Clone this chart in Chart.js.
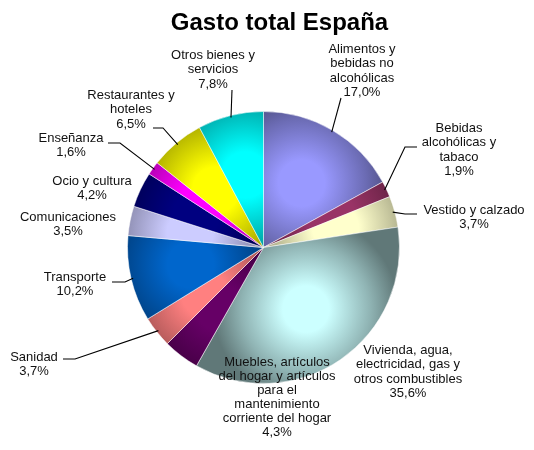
<!DOCTYPE html>
<html>
<head>
<meta charset="utf-8">
<script src="https://cdn.jsdelivr.net/npm/chart.js@4.4.1/dist/chart.umd.min.js"></script>
<style>
	html, body { margin: 0; padding: 0; background: #fff; }
	canvas { display: block; }
</style>
</head>
<body>
<canvas id="gasto" width="534" height="450"></canvas>
<script>
const chartTitle = 'Gasto total España';
const categories = [
	'Alimentos y\nbebidas no\nalcohólicas',
	'Bebidas\nalcohólicas y\ntabaco',
	'Vestido y calzado',
	'Vivienda, agua,\nelectricidad, gas y\notros combustibles',
	'Muebles, artículos\ndel hogar y artículos\npara el\nmantenimiento\ncorriente del hogar',
	'Sanidad',
	'Transporte',
	'Comunicaciones',
	'Ocio y cultura',
	'Enseñanza',
	'Restaurantes y\nhoteles',
	'Otros bienes y\nservicios'
];
const values = [17.0, 1.9, 3.7, 35.6, 4.3, 3.7, 10.2, 3.5, 4.2, 1.6, 6.5, 7.8];
const colors = ['#9999FF', '#993366', '#FFFFCC', '#CCFFFF', '#660066', '#FF8080',
	'#0066CC', '#CCCCFF', '#000080', '#FF00FF', '#FFFF00', '#00FFFF'];

// where each label block sits: centre x, y of the first line
const labelPos = [
	[362, 49], [459, 128], [474, 210], [408, 350], [277, 362], [34, 357],
	[75, 277], [68, 217], [92, 181], [71, 138], [131, 95], [213, 55]
];
// leader line points after the rim point (null = no line)
const leaders = [
	[[341, 98]],
	[[405, 147], [417, 147]],
	[[405, 214], [417, 214]],
	null,
	null,
	[[75, 359], [63, 359]],
	[[125, 282], [112, 282]],
	null,
	null,
	[[120, 143], [108, 143]],
	[[163, 128], [153, 128]],
	[[232, 90]]
];

function shade(hex, f) {
	let n = parseInt(hex.slice(1), 16);
	let r = Math.round(((n >> 16) & 255) * f);
	let g = Math.round(((n >> 8) & 255) * f);
	let b = Math.round((n & 255) * f);
	return 'rgb(' + r + ',' + g + ',' + b + ')';
}

function pieGeometry(chart) {
	let a = chart.chartArea;
	let cx = (a.left + a.right) / 2;
	let cy = (a.top + a.bottom) / 2;
	let r = (Math.min(a.right - a.left, a.bottom - a.top) - 1) / 2;
	return {cx: cx, cy: cy, r: r};
}

function sliceMid(i) {
	let total = values.reduce((s, v) => s + v, 0);
	let before = 0;
	for (let k = 0; k < i; k++) before += values[k];
	let frac = (before + values[i] / 2) / total;
	return frac * Math.PI * 2 - Math.PI / 2;
}

// excel-like shading: bright inside the slice, darker towards its edges
function sliceFill(context) {
	let chart = context.chart;
	if (!chart.chartArea) return colors[context.dataIndex];
	let i = context.dataIndex;
	let geo = pieGeometry(chart);
	let mid = sliceMid(i);
	let gx = geo.cx + Math.cos(mid) * geo.r * 0.55;
	let gy = geo.cy + Math.sin(mid) * geo.r * 0.55;
	let g = chart.ctx.createRadialGradient(gx, gy, 0, gx, gy, geo.r * 0.68);
	g.addColorStop(0, colors[i]);
	g.addColorStop(0.25, colors[i]);
	g.addColorStop(0.7, shade(colors[i], 0.7));
	g.addColorStop(1, shade(colors[i], 0.47));
	return g;
}

const labelPlugin = {
	id: 'pieLabels',
	afterDatasetsDraw(chart) {
		let ctx = chart.ctx;
		let geo = pieGeometry(chart);
		ctx.save();
		// leader lines
		ctx.strokeStyle = '#000';
		ctx.lineWidth = 1.1;
		leaders.forEach((pts, i) => {
			if (!pts) return;
			let mid = sliceMid(i);
			ctx.beginPath();
			ctx.moveTo(geo.cx + Math.cos(mid) * (geo.r - 2), geo.cy + Math.sin(mid) * (geo.r - 2));
			pts.forEach(p => ctx.lineTo(p[0], p[1]));
			ctx.stroke();
		});
		// label texts
		ctx.fillStyle = '#111';
		ctx.font = '13px "Liberation Sans", Arial, sans-serif';
		ctx.textAlign = 'center';
		ctx.textBaseline = 'middle';
		categories.forEach((name, i) => {
			let lines = name.split('\n');
			lines.push(values[i].toFixed(1).replace('.', ',') + '%');
			let lh = lines.length > 5 ? 14 : 14.6;
			lines.forEach((t, k) => {
				ctx.fillText(t, labelPos[i][0], labelPos[i][1] + k * lh);
			});
		});
		// title
		ctx.fillStyle = '#000';
		ctx.font = 'bold 24px "Liberation Sans", Arial, sans-serif';
		ctx.textBaseline = 'alphabetic';
		ctx.fillText(chartTitle, 279.5, 30);
		ctx.restore();
	}
};

new Chart(document.getElementById('gasto'), {
	type: 'pie',
	data: {
		labels: categories,
		datasets: [{
			data: values,
			backgroundColor: sliceFill,
			borderColor: 'rgba(255, 255, 255, 0.5)',
			borderWidth: 1
		}]
	},
	options: {
		responsive: false,
		animation: false,
		layout: {
			padding: {left: 127, right: 134, top: 111, bottom: 66}
		},
		plugins: {
			legend: {display: false},
			tooltip: {enabled: false},
			title: {display: false}
		}
	},
	plugins: [labelPlugin]
});
</script>
</body>
</html>
